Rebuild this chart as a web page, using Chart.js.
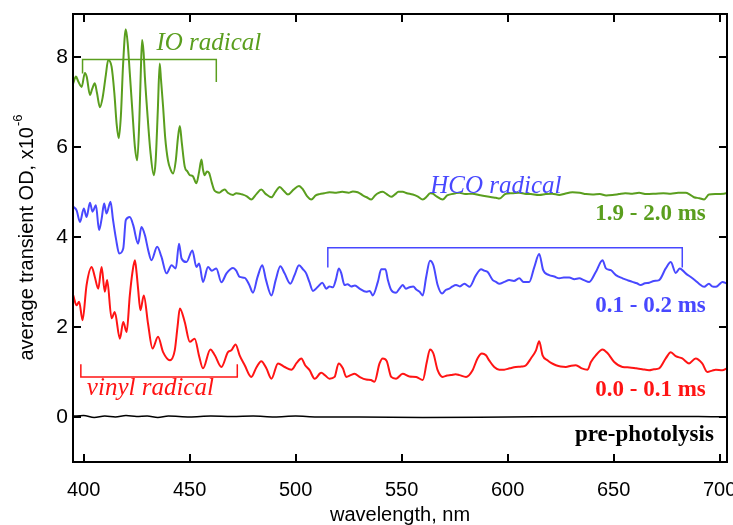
<!DOCTYPE html>
<html><head><meta charset="utf-8">
<script src="https://cdn.jsdelivr.net/npm/chart.js@4/dist/chart.umd.min.js"></script>
<style>html,body{margin:0;padding:0;background:#fff;}canvas{display:block;}</style>
</head><body>
<canvas id="c" width="733" height="525"></canvas>
<script>
const xTicks=[400,450,500,550,600,650,700];
const yTicks=[0,2,4,6,8];

const ioWl=[395.0,396.4,397.5,399.1,400.6,401.5,403.0,404.0,405.3,406.3,
407.7,409.0,410.5,411.6,413.2,414.5,415.6,416.6,417.6,418.6,
419.9,420.8,421.8,423.0,424.2,425.3,426.3,427.0,427.6,428.3,
428.9,430.0,431.5,433.1,434.0,435.0,435.9,436.5,437.5,438.5,
439.8,441.0,442.2,443.5,444.5,445.4,446.3,447.7,449.0,450.1,
451.5,453.2,454.5,455.6,456.3,457.1,458.2,459.2,460.5,461.5,
462.6,464.0,465.5,466.6,468.0,470.5,472.0,473.6,475.0,477.0,
479.1,481.5,483.8,486.0,488.6,490.5,492.5,494.5,496.4,499.0,
501.6,503.5,505.5,507.4,509.5,511.3,513.5,516.0,519.2,522.0,
525.0,527.0,529.3,531.5,533.5,535.7,537.5,539.0,541.1,543.0,
545.1,547.0,548.5,550.5,552.5,555.3,557.5,560.0,562.0,563.5,
564.7,566.5,569.4,571.5,573.5,575.5,577.3,580.0,583.5,586.5,
589.8,592.5,594.5,596.1,599.2,602.0,605.5,608.0,611.0,614.9,
618.0,621.0,624.4,627.0,630.6,634.0,637.0,640.0,643.5,646.5,
649.5,652.5,655.5,658.9,662.0,665.5,669.9,673.5,677.0,680.5,
684.0,686.0,687.9,690.5,692.7,695.0,698.5,702.1,703.5];
const ioOD=[7.40,7.56,7.45,7.33,7.64,7.55,7.15,7.28,7.41,7.20,
6.88,7.10,7.60,7.93,7.78,7.20,6.50,6.19,6.70,7.80,
8.61,8.30,7.63,6.80,6.00,5.70,6.60,7.70,8.37,8.10,
7.56,6.80,5.90,5.37,5.70,6.80,7.85,7.50,6.89,6.20,
5.70,5.50,5.41,5.70,6.20,6.46,6.10,5.56,5.45,5.37,
5.35,5.19,5.45,5.72,5.50,5.37,5.45,5.42,5.20,5.05,
5.00,4.98,5.03,5.05,4.98,4.93,4.97,4.96,4.94,4.90,
4.83,4.95,5.05,4.95,4.88,5.00,5.11,5.02,4.94,5.05,
5.13,5.05,4.90,4.83,4.92,4.95,4.97,4.99,4.98,5.00,
4.98,5.01,4.99,4.93,4.88,4.83,4.92,4.97,5.00,4.95,
4.89,4.95,5.00,5.00,4.97,4.94,4.90,4.83,4.90,4.97,
4.96,4.90,4.83,4.92,4.95,4.97,4.98,4.95,4.96,4.93,
4.90,4.88,4.87,4.85,4.96,4.97,4.98,4.96,4.95,4.93,
4.95,4.96,4.93,4.96,4.99,4.98,4.95,4.94,4.95,4.92,
4.93,4.95,4.97,4.96,4.98,4.95,4.96,4.97,4.96,4.98,
4.98,4.94,4.88,4.86,4.83,4.94,4.95,4.96,4.97];

const hcoWl=[395.1,396.7,398.3,400.1,401.4,403.0,404.2,405.8,407.3,408.5,
409.7,410.8,412.7,413.9,415.3,416.8,418.7,419.9,421.8,423.4,
425.7,427.3,428.9,430.5,432.0,434.7,436.7,439.1,441.5,443.5,
445.0,446.2,448.5,451.3,453.2,454.5,456.3,458.7,460.5,462.6,
465.0,467.4,470.5,472.0,473.6,476.0,478.0,479.9,482.0,484.3,
486.0,488.6,490.6,492.8,494.8,497.5,499.5,501.6,503.5,505.0,
506.5,508.2,510.5,512.6,514.5,516.0,517.6,519.0,520.4,521.5,
523.1,524.5,526.2,528.0,530.2,533.3,535.0,536.4,538.8,540.4,
542.4,543.5,545.1,547.4,549.0,550.5,552.0,553.7,555.5,556.9,
558.5,560.0,561.6,563.4,565.0,567.0,569.1,570.8,572.5,574.0,
575.7,577.5,579.6,581.0,582.0,585.1,587.5,589.0,590.6,593.0,
594.5,596.1,598.5,600.8,603.0,605.5,607.5,610.2,612.6,614.9,
616.8,619.6,622.0,624.4,626.5,629.1,631.5,633.8,636.0,638.5,
641.6,644.8,646.4,648.7,651.1,654.2,656.5,658.9,661.0,662.8,
664.8,666.8,669.0,671.5,674.6,677.0,679.3,681.2,684.0,687.2,
688.8,690.3,692.7,695.0,696.5,698.2,700.0,701.3,703.5];
const hcoOD=[4.67,4.59,4.33,4.63,4.44,4.76,4.56,4.70,4.15,4.40,
4.74,4.52,4.78,4.37,3.95,3.63,3.74,4.37,4.44,4.26,
3.85,4.22,4.04,3.70,3.48,3.78,3.56,3.19,3.37,3.30,
3.85,3.52,3.44,3.70,3.33,3.41,3.00,3.33,3.25,3.30,
2.99,3.19,3.31,3.25,3.11,3.09,2.95,2.76,3.10,3.37,
3.05,2.70,3.04,3.35,3.19,2.96,3.15,3.37,3.28,3.19,
3.00,2.80,2.89,2.98,2.85,2.90,2.88,3.05,3.30,3.20,
2.93,2.95,2.90,2.92,2.85,2.78,2.80,2.70,3.00,3.28,
3.28,3.05,2.82,2.76,2.85,2.93,2.85,2.88,2.90,2.83,
2.78,2.70,3.11,3.47,3.37,2.93,2.74,2.82,2.85,2.90,
2.93,2.90,2.96,2.92,2.89,3.15,3.28,3.25,3.22,3.04,
3.00,2.96,3.00,3.04,3.02,3.08,3.00,3.00,3.33,3.62,
3.26,3.15,3.12,3.08,3.10,3.10,3.06,3.08,3.04,3.00,
3.22,3.48,3.30,3.26,3.15,3.08,3.04,3.00,2.97,2.93,
2.97,2.98,3.02,3.04,3.30,3.44,3.20,3.30,3.19,3.08,
3.02,2.96,2.89,2.96,2.90,2.89,2.95,3.00,2.96];

const vinylWl=[395.1,396.7,397.9,399.5,401.4,403.8,405.3,406.9,408.5,410.0,
411.1,413.2,414.7,417.1,418.7,420.3,421.8,423.0,424.2,425.0,
425.7,426.8,428.4,430.4,432.5,435.1,437.5,440.7,443.0,444.3,
445.4,447.7,450.1,452.4,454.5,456.3,459.8,461.9,465.0,468.1,
469.7,471.7,473.6,476.0,479.1,481.5,483.8,486.2,488.6,491.7,
494.8,498.0,500.5,502.7,504.5,506.6,509.0,512.1,514.0,516.0,
518.4,520.3,522.3,523.9,526.0,527.8,530.2,533.3,535.5,537.2,
539.6,541.1,543.0,545.1,547.4,550.5,553.7,556.9,560.0,561.9,
563.4,565.0,567.0,569.4,571.5,573.3,575.5,577.3,580.4,583.5,
585.8,587.9,589.8,591.4,593.7,596.1,598.4,601.0,603.9,606.5,
608.7,611.0,613.4,614.9,616.5,618.8,620.5,622.8,625.0,627.5,
630.0,632.2,635.0,637.7,639.3,641.6,644.8,647.1,650.3,654.2,
657.5,660.6,663.5,666.8,669.0,671.5,674.6,677.0,679.3,682.4,
685.6,688.7,691.8,694.2,696.5,698.2,701.3,703.5];
const vinylOD=[2.70,2.48,2.56,2.15,2.93,3.33,3.11,2.85,3.33,2.78,
3.04,2.19,2.33,1.74,2.11,1.89,2.70,3.20,3.48,3.20,
2.85,2.37,2.70,2.07,1.52,1.78,1.44,1.26,1.48,2.00,
2.41,2.11,1.67,1.74,1.35,1.08,1.50,1.37,1.11,1.44,
1.48,1.61,1.37,1.15,0.89,1.10,1.24,1.08,0.85,1.19,
1.11,1.05,1.20,1.30,1.15,1.04,0.85,0.98,0.92,0.85,
0.89,1.19,1.08,0.89,0.93,0.96,0.89,0.83,0.82,0.78,
1.19,1.30,1.24,0.89,0.85,0.96,0.90,0.89,0.82,1.22,
1.50,1.41,1.04,0.89,0.92,0.93,0.95,0.93,0.89,1.04,
1.30,1.41,1.37,1.25,1.11,1.05,1.05,1.08,1.11,1.12,
1.15,1.30,1.48,1.68,1.37,1.26,1.20,1.15,1.12,1.11,
1.14,1.15,1.08,1.05,1.22,1.37,1.50,1.42,1.22,1.11,
1.10,1.08,1.06,1.04,1.06,1.08,1.30,1.44,1.35,1.30,
1.19,1.30,1.19,1.00,1.03,1.05,1.04,1.08];

const preWl=[395,400,405,410,415,420,425,430,435,440,450,460,470,480,490,500,510,530,560,600,640,660,690,703.5];
const preOD=[0.02,0.03,-0.01,0.02,0.00,0.03,0.01,0.02,-0.01,0.02,0.00,0.02,0.01,0.02,0.00,0.02,0.00,0.00,-0.01,0.00,0.01,0.01,0.01,0.00];

const GREEN='#5a9e1e', BLUE='#4848ff', RED='#ff1414', BLACK='#000000';

function pts(xs,ys){return xs.map((x,i)=>({x:x,y:ys[i]}));}

const decor={
  id:'decor',
  afterDatasetsDraw(chart){
    const ctx=chart.ctx, a=chart.chartArea, xs=chart.scales.x, ys=chart.scales.y;
    const X=v=>xs.getPixelForValue(v), Y=v=>ys.getPixelForValue(v);
    ctx.save();
    ctx.strokeStyle='#000'; ctx.lineWidth=2;
    ctx.strokeRect(a.left,a.top,a.right-a.left,a.bottom-a.top);
    ctx.beginPath();
    xTicks.forEach(v=>{const p=Math.round(X(v));ctx.moveTo(p,a.bottom);ctx.lineTo(p,a.bottom-8);ctx.moveTo(p,a.top);ctx.lineTo(p,a.top+8);});
    yTicks.forEach(v=>{const p=Math.round(Y(v));ctx.moveTo(a.left,p);ctx.lineTo(a.left+8,p);ctx.moveTo(a.right,p);ctx.lineTo(a.right-8,p);});
    ctx.stroke();
    function bracket(x1,x2,yb,t1,t2,col){
      ctx.strokeStyle=col; ctx.lineWidth=1.5; ctx.beginPath();
      ctx.moveTo(X(x1),Y(t1)); ctx.lineTo(X(x1),Y(yb)); ctx.lineTo(X(x2),Y(yb)); ctx.lineTo(X(x2),Y(t2)); ctx.stroke();
    }
    bracket(399.5,462.6,7.94,7.63,7.44,GREEN);
    bracket(515.2,682.4,3.76,3.32,3.32,BLUE);
    bracket(398.7,472.5,0.89,1.17,1.17,RED);
    function txt(s,x,y,font,col,align){ctx.font=font;ctx.fillStyle=col;ctx.textAlign=align;ctx.textBaseline='alphabetic';ctx.fillText(s,X(x),Y(y));}
    const it='italic 25px "Liberation Serif"', bd='bold 23px "Liberation Serif"';
    txt('IO radical',459.1,8.15,it,GREEN,'center');
    txt('HCO radical',594.5,4.97,it,BLUE,'center');
    txt('vinyl radical',431.5,0.48,it,RED,'center');
    txt('1.9 - 2.0 ms',693.5,4.37,bd,GREEN,'right');
    txt('0.1 - 0.2 ms',693.5,2.33,bd,BLUE,'right');
    txt('0.0 - 0.1 ms',693.5,0.46,bd,RED,'right');
    txt('pre-photolysis',697.3,-0.54,bd,BLACK,'right');
    ctx.fillStyle='#000';
    ctx.font='20px "Liberation Sans"'; ctx.textAlign='center'; ctx.textBaseline='middle';
    ctx.fillText('wavelength, nm',400,515);
    ctx.translate(27,238); ctx.rotate(-Math.PI/2);
    const main='average transient OD, x10', sup='-6';
    ctx.font='20px "Liberation Sans"'; const w1=ctx.measureText(main).width;
    ctx.font='13px "Liberation Sans"'; const w2=ctx.measureText(sup).width;
    const start=-(w1+w2)/2;
    ctx.textAlign='left';
    ctx.font='20px "Liberation Sans"'; ctx.fillText(main,start,0);
    ctx.font='13px "Liberation Sans"'; ctx.fillText(sup,start+w1+1,-9);
    ctx.restore();
  }
};

new Chart(document.getElementById('c'),{
  type:'line',
  data:{datasets:[
    {data:pts(preWl,preOD),borderColor:BLACK,borderWidth:1.5},
    {data:pts(vinylWl,vinylOD),borderColor:RED,borderWidth:2},
    {data:pts(hcoWl,hcoOD),borderColor:BLUE,borderWidth:2},
    {data:pts(ioWl,ioOD),borderColor:GREEN,borderWidth:2}
  ]},
  options:{
    responsive:false,animation:false,devicePixelRatio:1,
    elements:{point:{radius:0},line:{cubicInterpolationMode:'monotone',fill:false}},
    layout:{padding:{top:14,right:6,left:0,bottom:0}},
    plugins:{legend:{display:false},tooltip:{enabled:false}},
    scales:{
      x:{type:'linear',min:395,max:703.5,
        afterBuildTicks:s=>{s.ticks=xTicks.map(v=>({value:v}));},
        afterFit:s=>{s.height=63;s.paddingLeft=0;s.paddingRight=0;},
        grid:{display:false,drawTicks:false},border:{display:false},
        ticks:{font:{family:'Liberation Sans',size:20},color:'#000',padding:16,maxRotation:0,autoSkip:false}},
      y:{type:'linear',min:-1,max:8.95,
        afterBuildTicks:s=>{s.ticks=yTicks.map(v=>({value:v}));},
        afterFit:s=>{s.width=73;s.paddingTop=0;s.paddingBottom=0;},
        grid:{display:false,drawTicks:false},border:{display:false},
        ticks:{font:{family:'Liberation Sans',size:21},color:'#000',padding:5}}
    }
  },
  plugins:[decor]
});
</script>
</body></html>
